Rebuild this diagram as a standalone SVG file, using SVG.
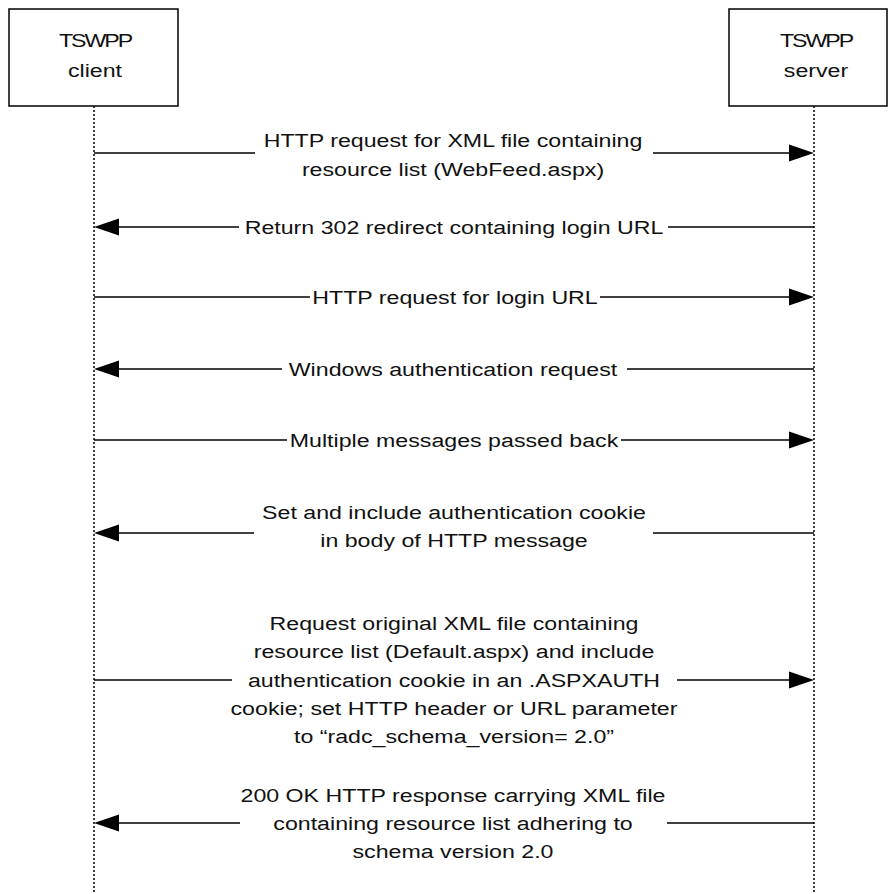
<svg xmlns="http://www.w3.org/2000/svg" width="888" height="894" viewBox="0 0 888 894">
<style>
  .box { fill: #ffffff; stroke: #000000; stroke-width: 1.5; }
  .life { stroke: #000000; stroke-width: 1.5; stroke-dasharray: 2 2; fill: none; }
  .msg { stroke: #000000; stroke-width: 1.5; fill: none; }
  .head { fill: #000000; stroke: none; }
  text { font-family: "Liberation Sans", Arial, sans-serif; font-size: 19px; fill: #111111; text-anchor: middle; }
  .tight { letter-spacing: -1.7px; }
</style>
<rect width="888" height="894" fill="#ffffff"/>

<g id="client">
  <rect class="box" x="9" y="9" width="169" height="97"/>
  <g transform="translate(95 0) scale(1.22 1)">
    <text class="tight" x="0" y="47">TSWPP</text>
    <text x="0" y="77">client</text>
  </g>
  <line class="life" x1="94" y1="106" x2="94" y2="894"/>
</g>

<g id="server">
  <rect class="box" x="729" y="9" width="158" height="97"/>
  <g transform="translate(816 0) scale(1.22 1)">
    <text class="tight" x="0" y="47">TSWPP</text>
    <text x="0" y="77">server</text>
  </g>
  <line class="life" x1="814" y1="106" x2="814" y2="894"/>
</g>

<g id="connectors">
  <!-- 1 -->
  <line class="msg" x1="94" y1="153" x2="255" y2="153"/>
  <line class="msg" x1="653" y1="153" x2="795" y2="153"/>
  <polygon class="head" points="814,153 789,144.5 789,161.5"/>
  <!-- 2 -->
  <line class="msg" x1="113" y1="227" x2="239" y2="227"/>
  <line class="msg" x1="668" y1="227" x2="814" y2="227"/>
  <polygon class="head" points="94,227 119,218.5 119,235.5"/>
  <!-- 3 -->
  <line class="msg" x1="94" y1="297" x2="310" y2="297"/>
  <line class="msg" x1="600" y1="297" x2="795" y2="297"/>
  <polygon class="head" points="814,297 789,288.5 789,305.5"/>
  <!-- 4 -->
  <line class="msg" x1="113" y1="369" x2="282" y2="369"/>
  <line class="msg" x1="627" y1="369" x2="814" y2="369"/>
  <polygon class="head" points="94,369 119,360.5 119,377.5"/>
  <!-- 5 -->
  <line class="msg" x1="94" y1="440" x2="287" y2="440"/>
  <line class="msg" x1="621" y1="440" x2="795" y2="440"/>
  <polygon class="head" points="814,440 789,431.5 789,448.5"/>
  <!-- 6 -->
  <line class="msg" x1="113" y1="533" x2="254" y2="533"/>
  <line class="msg" x1="653" y1="533" x2="814" y2="533"/>
  <polygon class="head" points="94,533 119,524.5 119,541.5"/>
  <!-- 7 -->
  <line class="msg" x1="94" y1="680" x2="232" y2="680"/>
  <line class="msg" x1="677" y1="680" x2="795" y2="680"/>
  <polygon class="head" points="814,680 789,671.5 789,688.5"/>
  <!-- 8 -->
  <line class="msg" x1="113" y1="823" x2="240" y2="823"/>
  <line class="msg" x1="667" y1="823" x2="814" y2="823"/>
  <polygon class="head" points="94,823 119,814.5 119,831.5"/>
</g>

<g id="labels">
  <g transform="translate(453 0) scale(1.22 1)">
    <text x="0" y="147">HTTP request for XML file containing</text>
    <text x="0" y="176">resource list (WebFeed.aspx)</text>
  </g>
  <g transform="translate(454 0) scale(1.22 1)">
    <text x="0" y="234">Return 302 redirect containing login URL</text>
  </g>
  <g transform="translate(455 0) scale(1.22 1)">
    <text x="0" y="304">HTTP request for login URL</text>
  </g>
  <g transform="translate(453 0) scale(1.22 1)">
    <text x="0" y="376">Windows authentication request</text>
  </g>
  <g transform="translate(454 0) scale(1.22 1)">
    <text x="0" y="447">Multiple messages passed back</text>
  </g>
  <g transform="translate(454 0) scale(1.22 1)">
    <text x="0" y="519">Set and include authentication cookie</text>
    <text x="0" y="547">in body of HTTP message</text>
  </g>
  <g transform="translate(454 0) scale(1.22 1)">
    <text x="0" y="630">Request original XML file containing</text>
    <text x="0" y="658">resource list (Default.aspx) and include</text>
    <text x="0" y="687">authentication cookie in an .ASPXAUTH</text>
    <text x="0" y="715">cookie; set HTTP header or URL parameter</text>
    <text x="0" y="743">to “radc_schema_version= 2.0”</text>
  </g>
  <g transform="translate(453 0) scale(1.22 1)">
    <text x="0" y="802">200 OK HTTP response carrying XML file</text>
    <text x="0" y="830">containing resource list adhering to</text>
    <text x="0" y="858">schema version 2.0</text>
  </g>
</g>
</svg>
